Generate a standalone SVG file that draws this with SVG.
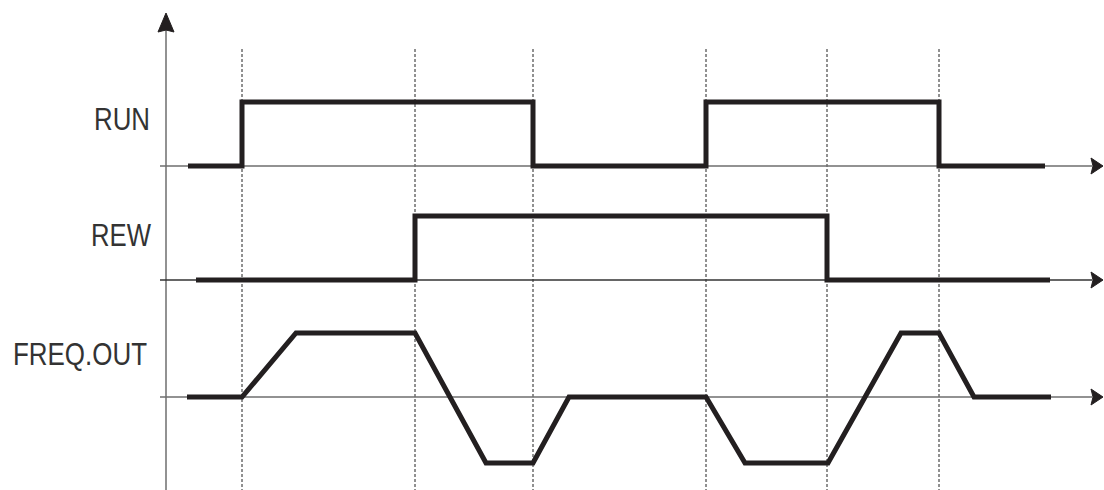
<svg xmlns="http://www.w3.org/2000/svg" width="1104" height="490" viewBox="0 0 1104 490">
<style>
.axis{stroke:#6e6e6e;stroke-width:1.5;fill:none}
.axisd{stroke:#333;stroke-width:1.5;fill:none}
.dash{stroke:#222;stroke-width:1;stroke-dasharray:3,2;fill:none}
.sig{stroke:#231f20;stroke-width:5;fill:none;stroke-linejoin:miter}
.head{fill:#231f20;stroke:#231f20;stroke-width:1;stroke-linejoin:miter}
.lbl{font-family:"Liberation Sans",Arial,sans-serif;font-size:31px;fill:#333;text-anchor:end}
</style>
<rect width="1104" height="490" fill="#fff"/>
<g id="grid">
<line class="dash" x1="242" y1="49" x2="242" y2="490"/>
<line class="dash" x1="415" y1="49" x2="415" y2="490"/>
<line class="dash" x1="533" y1="49" x2="533" y2="490"/>
<line class="dash" x1="706" y1="49" x2="706" y2="490"/>
<line class="dash" x1="827" y1="49" x2="827" y2="490"/>
<line class="dash" x1="939" y1="49" x2="939" y2="490"/>
</g>
<g id="connectors">
<line class="axis" x1="166" y1="490" x2="166" y2="28"/>
<polygon class="head" points="166,13 174,32 166,30 158,32"/>
<line class="axis" x1="160" y1="166" x2="1092" y2="166"/>
<polygon class="head" points="1103,166 1091,158 1093,166 1091,174"/>
<line class="axisd" x1="160" y1="280" x2="1092" y2="280"/>
<polygon class="head" points="1103,280 1091,272 1093,280 1091,288"/>
<line class="axis" x1="160" y1="397" x2="1092" y2="397"/>
<polygon class="head" points="1103,397 1091,389 1093,397 1091,405"/>
</g>
<g id="run">
<text class="lbl" x="150" y="130" textLength="56" lengthAdjust="spacingAndGlyphs">RUN</text>
<polyline class="sig" points="188,166 242,166 242,102 533,102 533,166 706,166 706,102 939,102 939,166 1045,166"/>
</g>
<g id="rew">
<text class="lbl" x="151" y="246" textLength="60" lengthAdjust="spacingAndGlyphs">REW</text>
<polyline class="sig" points="196,280 415,280 415,216 827,216 827,280 1050,280"/>
</g>
<g id="freq">
<text class="lbl" x="147" y="365" textLength="134" lengthAdjust="spacingAndGlyphs">FREQ.OUT</text>
<polyline class="sig" points="187,397 242,397 296,333 415,333 486,463 533,463 569,397 706,397 745,463 828,463 901,333 939,333 974,397 1051,397"/>
</g>
</svg>
